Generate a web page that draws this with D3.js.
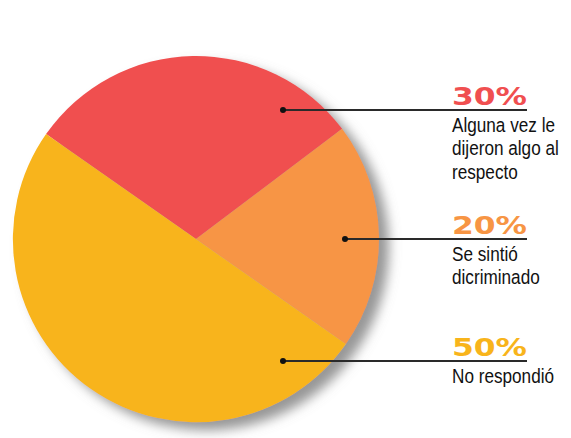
<!DOCTYPE html>
<html>
<head>
<meta charset="utf-8">
<script src="https://cdn.jsdelivr.net/npm/d3@7"></script>
<style>
  html, body { margin: 0; padding: 0; background: #fff; }
  svg { display: block; }
</style>
</head>
<body>
<svg id="chart" width="571" height="438"></svg>
<script>
// Survey answers
const categories = ["Alguna vez le dijeron algo al respecto", "Se sintió dicriminado", "No respondió"];
const values = [30, 20, 50];
const percentLabels = ["30%", "20%", "50%"];
const descriptionLines = [
  ["Alguna vez le", "dijeron algo al", "respecto"],
  ["Se sintió", "dicriminado"],
  ["No respondió"]
];
const colors = ["#F04F50", "#F79544", "#F8B41B"];

// Layout
const W = 571, H = 438;
const cx = 196, cy = 239, R = 183;
const startAngle = -Math.PI * 0.3056; // first wedge starts up-left
const leaderY = [110, 239, 361];
const dotX = [283, 345, 283];
const labelX = 452, lineEndX = 527;

const svg = d3.select("#chart");

const defs = svg.append("defs");
const shadow = defs.append("filter")
  .attr("id", "pieShadow")
  .attr("x", "-20%").attr("y", "-20%")
  .attr("width", "140%").attr("height", "140%");
shadow.append("feDropShadow")
  .attr("dx", 10).attr("dy", 8)
  .attr("stdDeviation", 6)
  .attr("flood-color", "#8c8c8c")
  .attr("flood-opacity", 0.9);

const pie = d3.pie()
  .sort(null)
  .value(d => d)
  .startAngle(startAngle)
  .endAngle(startAngle + 2 * Math.PI);

const arc = d3.arc().innerRadius(0).outerRadius(R);

const g = svg.append("g").attr("transform", `translate(${cx},${cy})`);

g.append("g")
  .attr("filter", "url(#pieShadow)")
  .selectAll("path")
  .data(pie(values))
  .join("path")
  .attr("d", arc)
  .attr("fill", (d, i) => colors[i]);

// Leader lines with dots
const labels = svg.append("g").selectAll("g")
  .data(categories)
  .join("g");

labels.append("line")
  .attr("x1", (d, i) => dotX[i])
  .attr("x2", lineEndX)
  .attr("y1", (d, i) => leaderY[i])
  .attr("y2", (d, i) => leaderY[i])
  .attr("stroke", "#2a2a2a")
  .attr("stroke-width", 1.8);

labels.append("circle")
  .attr("cx", (d, i) => dotX[i])
  .attr("cy", (d, i) => leaderY[i])
  .attr("r", 3)
  .attr("fill", "#111");

// Percent figures
labels.append("text")
  .attr("x", labelX)
  .attr("y", (d, i) => leaderY[i] - 5)
  .attr("font-family", "DejaVu Sans, sans-serif")
  .attr("font-weight", "bold")
  .attr("font-size", 24)
  .attr("textLength", 75)
  .attr("lengthAdjust", "spacingAndGlyphs")
  .attr("fill", (d, i) => colors[i])
  .text((d, i) => percentLabels[i]);

// Descriptions
labels.each(function (d, i) {
  const t = d3.select(this).append("g")
    .attr("transform", `translate(${labelX},${leaderY[i] + 21.5}) scale(0.88,1)`);
  t.selectAll("text")
    .data(descriptionLines[i])
    .join("text")
    .attr("x", 0)
    .attr("y", (s, j) => j * 24)
    .attr("font-family", "Liberation Sans, Arial, sans-serif")
    .attr("font-size", 19.5)
    .attr("fill", "#111")
    .text(s => s);
});
</script>
</body>
</html>
